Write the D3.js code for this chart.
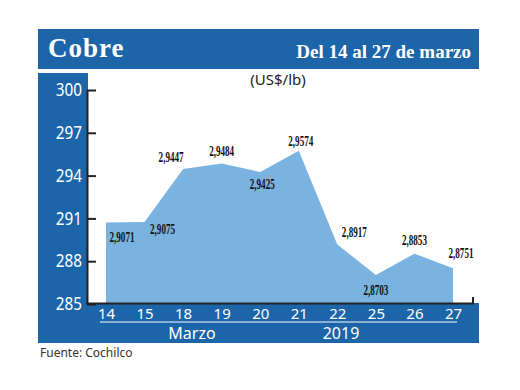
<!DOCTYPE html>
<html><head><meta charset="utf-8">
<script src="https://cdn.jsdelivr.net/npm/d3@7"></script>
<style>body{margin:0;background:#fff}</style>
</head><body>
<script>
const days = ["14","15","18","19","20","21","22","25","26","27"];
const values = [290.71,290.75,294.47,294.84,294.25,295.74,289.17,287.03,288.53,287.51];
const labels = ["2,9071","2,9075","2,9447","2,9484","2,9425","2,9574","2,8917","2,8703","2,8853","2,8751"];
const yTicks = [285,288,291,294,297,300];
// label offsets (dx, dy) relative to point
const labOff = [[16,14],[18,7],[-12,-12],[0,-13],[2,12],[2,-10],[17,-13],[0,15],[0,-14],[8,-15]];

const W=520,H=390;
const blue="#1d65a9", area="#7bb3e0";
const svg=d3.select("body").append("svg").attr("width",W).attr("height",H);

// header
svg.append("rect").attr("x",38).attr("y",29).attr("width",441).attr("height",40).attr("fill",blue);
svg.append("text").attr("x",48).attr("y",57).text("Cobre").attr("letter-spacing",1)
  .attr("fill","#fff").attr("font-family","Liberation Serif").attr("font-weight","bold").attr("font-size",27);
svg.append("text").attr("x",471).attr("y",58).attr("text-anchor","end").text("Del 14 al 27 de marzo")
  .attr("fill","#fff").attr("font-family","Liberation Serif").attr("font-weight","bold").attr("font-size",19);

// left panel and bottom band
svg.append("rect").attr("x",38).attr("y",73).attr("width",50).attr("height",270).attr("fill",blue);
svg.append("rect").attr("x",38).attr("y",303).attr("width",441).attr("height",40).attr("fill",blue);

const x=d3.scalePoint().domain(days).range([106,453]);
const y=d3.scaleLinear().domain([285,300]).range([304,90]);

// area
const ar=d3.area().x((d,i)=>x(days[i])).y0(y(285)).y1(d=>y(d));
svg.append("path").datum(values).attr("d",ar).attr("fill",area);

// y axis
const yAxis=d3.axisLeft(y).tickValues(yTicks).tickSizeInner(-9).tickSizeOuter(0).tickPadding(5);
const gy=svg.append("g").attr("transform","translate(87,0)").call(yAxis);
gy.select(".domain").attr("stroke","#222").attr("stroke-width",2);
gy.selectAll(".tick line").attr("stroke","#222").attr("stroke-width",2);
gy.selectAll(".tick text").attr("fill","#fff").attr("font-family","Noto Sans").attr("font-size",18)
  .attr("transform","scale(0.85,1)").attr("dx",-1);

// bottom axis line with right hook
svg.append("path").attr("d",`M86,${y(285)-0.5}H473V${y(285)-7}`).attr("fill","none").attr("stroke","#222").attr("stroke-width",2);

// x axis labels
const xAxis=d3.axisBottom(x).tickSize(0).tickPadding(0);
const gx=svg.append("g").attr("transform","translate(0,308)").call(xAxis);
gx.select(".domain").remove();
gx.selectAll(".tick text").attr("fill","#fff").attr("font-family","Noto Sans").attr("font-size",15).attr("dy","0.75em");

svg.append("line").attr("x1",100).attr("x2",457).attr("y1",322).attr("y2",322).attr("stroke","#fff").attr("stroke-width",1);
svg.append("text").attr("x",192).attr("y",339).attr("text-anchor","middle").text("Marzo")
  .attr("fill","#fff").attr("font-family","Noto Sans").attr("font-size",16);
svg.append("text").attr("x",341).attr("y",339).attr("text-anchor","middle").text("2019")
  .attr("fill","#fff").attr("font-family","Noto Sans").attr("font-size",16);

// unit
svg.append("text").attr("x",278).attr("y",85).attr("text-anchor","middle").text("(US$/lb)")
  .attr("fill","#222").attr("font-family","Noto Sans").attr("font-size",15);

// data labels
svg.selectAll("text.lab").data(values).enter().append("text").attr("class","lab")
  .attr("x",(d,i)=>x(days[i])+labOff[i][0]).attr("y",(d,i)=>y(d)+labOff[i][1]+5)
  .attr("text-anchor","middle").text((d,i)=>labels[i])
  .attr("fill","#111").attr("font-family","Liberation Serif").attr("font-weight","bold").attr("font-size",14)
  .attr("textLength",25).attr("lengthAdjust","spacingAndGlyphs");

// source
svg.append("text").attr("x",40).attr("y",357).text("Fuente: Cochilco")
  .attr("fill","#333").attr("font-family","Noto Sans").attr("font-size",12);
</script>
</body></html>
